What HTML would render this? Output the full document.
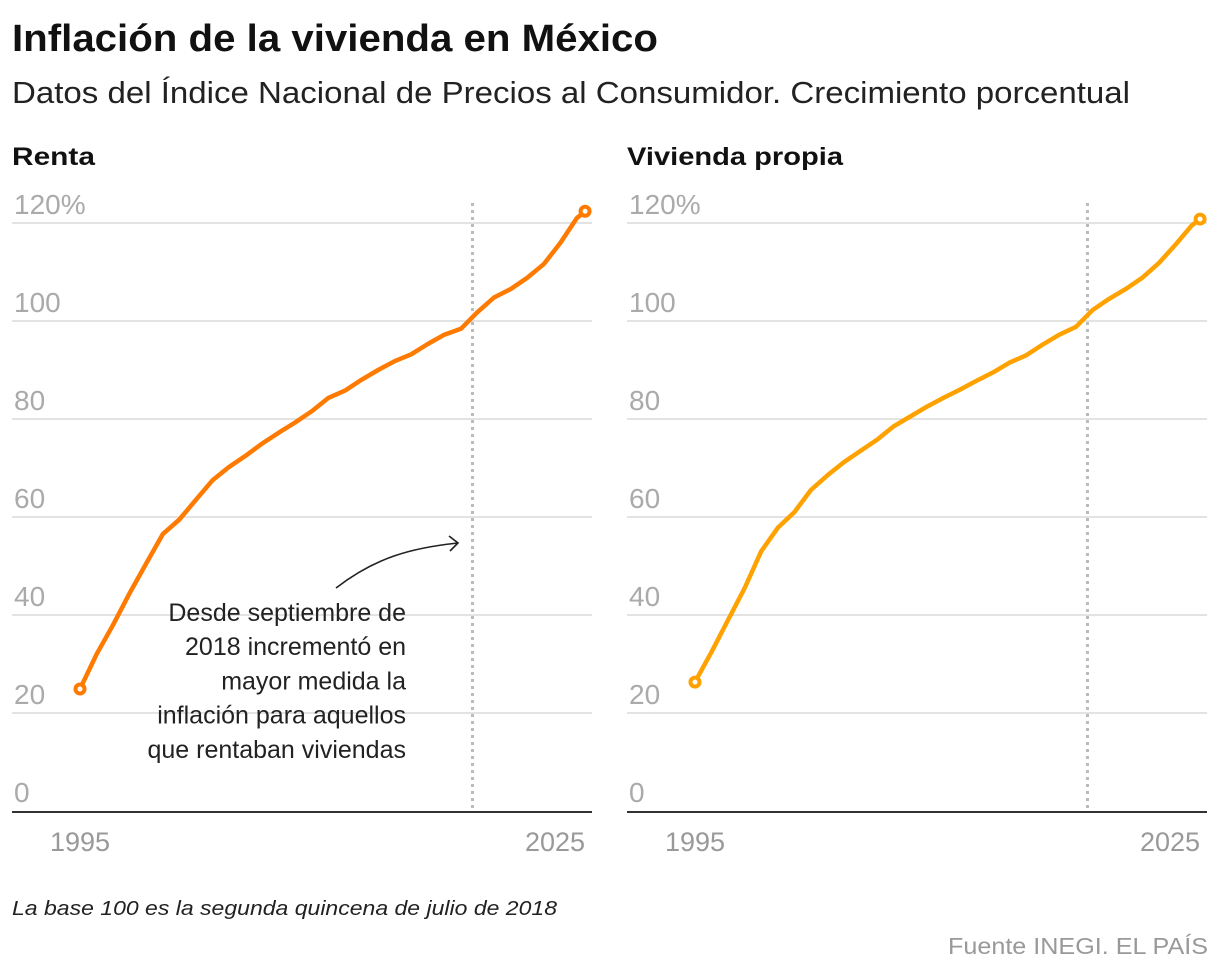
<!DOCTYPE html>
<html><head><meta charset="utf-8"><style>
html,body{margin:0;padding:0;background:#fff;}
svg{display:block;font-family:"Liberation Sans",sans-serif;}
</style></head><body>
<svg id="chart" width="1220" height="978" viewBox="0 0 1220 978">
<text x="12" y="51" font-size="38" font-weight="bold" fill="#111" textLength="646" lengthAdjust="spacingAndGlyphs">Inflación de la vivienda en México</text>
<text x="12" y="103" font-size="31" fill="#222" textLength="1118" lengthAdjust="spacingAndGlyphs">Datos del Índice Nacional de Precios al Consumidor. Crecimiento porcentual</text>
<g id="panels"></g>
<text x="12" y="915" font-size="20" font-style="italic" fill="#222" textLength="545" lengthAdjust="spacingAndGlyphs">La base 100 es la segunda quincena de julio de 2018</text>
<text x="1208" y="954" font-size="23" fill="#999" text-anchor="end" textLength="260" lengthAdjust="spacingAndGlyphs">Fuente INEGI. EL PAÍS</text>
</svg>
<script>
const years = [1995,1996,1997,1998,1999,2000,2001,2002,2003,2004,2005,2006,2007,2008,2009,2010,2011,2012,2013,2014,2015,2016,2017,2018,2019,2020,2021,2022,2023,2024,2025,2025.5];
const rentaValues = [24.9,32,38,44.5,50.5,56.5,59.5,63.5,67.5,70.2,72.5,75,77.2,79.3,81.6,84.3,85.8,88,90,91.8,93.2,95.3,97.2,98.4,101.8,104.8,106.5,108.8,111.6,115.9,121,122.4];
const propiaValues = [26.3,32.5,39,45.5,53,57.8,61,65.5,68.5,71.2,73.5,75.8,78.5,80.5,82.5,84.3,86,87.8,89.5,91.5,93,95.2,97.2,98.8,102.2,104.5,106.5,108.8,111.8,115.5,119.5,120.8];
const yTicks = [0,20,40,60,80,100,120];
const yTickLabels = ["0","20","40","60","80","100","120%"];
const xLabels = ["1995","2025"];
const markerYear = 2018.7;

const NS = "http://www.w3.org/2000/svg";
const panelsG = document.getElementById('panels');
function mk(tag, attrs, parent){const e=document.createElementNS(NS,tag);for(const k in attrs)e.setAttribute(k,attrs[k]);parent.appendChild(e);return e;}
const yScale = v => 811 - v*4.9;

function drawPanel(off, title, titleLen, values, color, key){
  const g = mk('g',{},panelsG);
  
  
  const xScale = yr => 80 + off + (yr-1995)*16.56;
  const t = mk('text',{x:12+off,y:165,'font-size':25,'font-weight':'bold',fill:'#111',textLength:titleLen,lengthAdjust:'spacingAndGlyphs'},g);
  t.textContent = title;
  
  
  yTicks.forEach((v,i)=>{
    if(v>0){
      const l = mk('line',{x1:12+off,x2:592+off,y1:yScale(v),y2:yScale(v),stroke:'#e3e3e3','stroke-width':2},g);
      
      
    }
    const tx = mk('text',{x:14+off,y:yScale(v)-9,'font-size':28,fill:'#aaa'},g);
    tx.textContent = yTickLabels[i];
    
    
  });
  const base = mk('line',{x1:12+off,x2:592+off,y1:812,y2:812,stroke:'#333','stroke-width':2},g);
  
  
  const dl = mk('line',{x1:xScale(markerYear),x2:xScale(markerYear),y1:203,y2:811,stroke:'#bbb','stroke-width':3,'stroke-dasharray':'3 4'},g);
  
  
  const x1 = mk('text',{x:xScale(1995),y:851,'font-size':27,fill:'#999','text-anchor':'middle'},g);
  x1.textContent = xLabels[0];
  
  
  const x2 = mk('text',{x:xScale(2025.5),y:851,'font-size':27,fill:'#999','text-anchor':'end'},g);
  x2.textContent = xLabels[1];
  
  
  const d = values.map((v,i)=>(i?'L':'M')+xScale(years[i]).toFixed(1)+','+yScale(v).toFixed(1)).join(' ');
  const p = mk('path',{d:d,fill:'none',stroke:color,'stroke-width':4.5,'stroke-linejoin':'round','stroke-linecap':'round'},g);
  
  
  [0, values.length-1].forEach(i=>{
    const c = mk('circle',{cx:xScale(years[i]),cy:yScale(values[i]),r:4.5,fill:'#fff',stroke:color,'stroke-width':4},g);
    
    
  });
  return g;
}
drawPanel(0,'Renta',83,rentaValues,'#ff7a00','renta');
drawPanel(615,'Vivienda propia',216,propiaValues,'#ffa200','vivienda-propia');

// annotation
const ann = mk('g',{},panelsG);


const lines = ["Desde septiembre de","2018 incrementó en","mayor medida la","inflación para aquellos","que rentaban viviendas"];
lines.forEach((s,i)=>{
  const t = mk('text',{x:406,y:621+i*34.2,'font-size':25,fill:'#222','text-anchor':'end'},ann);
  t.textContent = s;
  
  
});
const arr = mk('path',{d:'M336,588 C375,558 410,548 458,543 M449,536 L458,543 L450,551',fill:'none',stroke:'#222','stroke-width':1.6},ann);


</script>
</body></html>
